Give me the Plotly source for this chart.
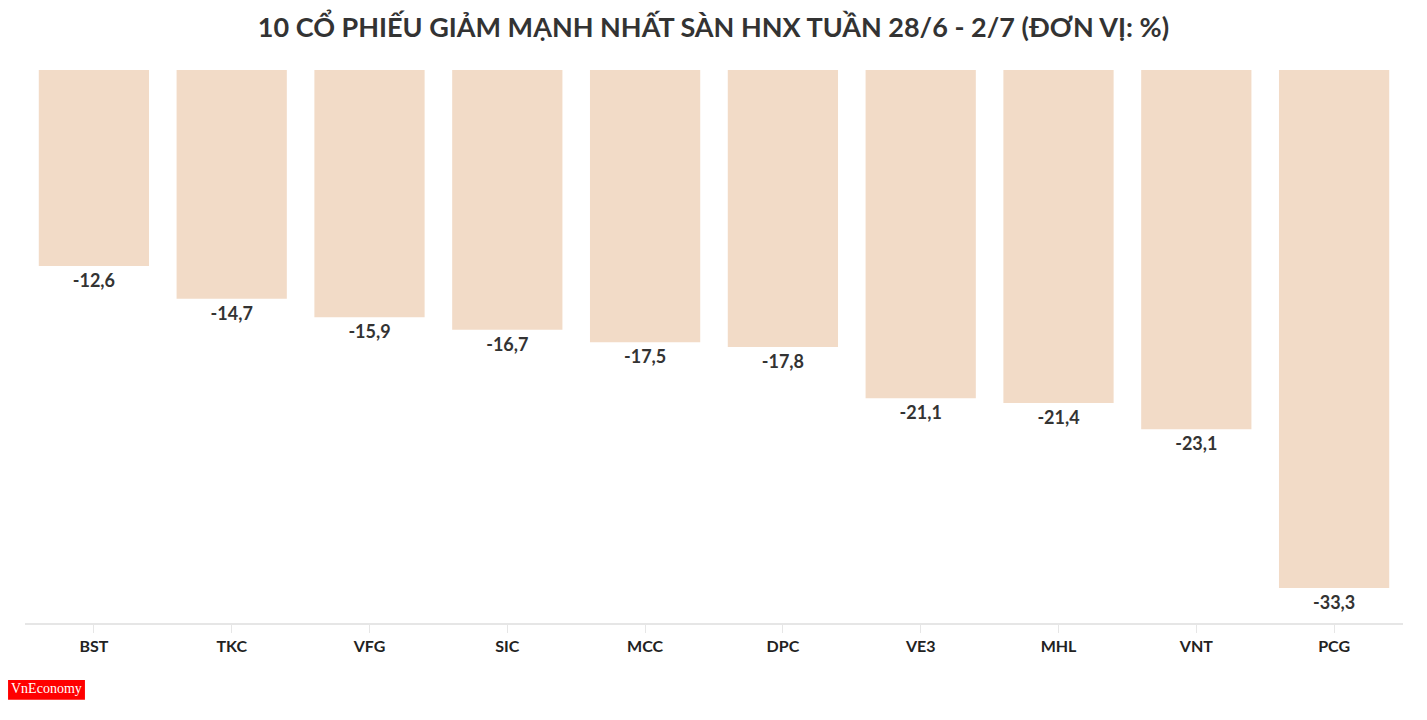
import plotly.graph_objects as go

categories = ["BST", "TKC", "VFG", "SIC", "MCC", "DPC", "VE3", "MHL", "VNT", "PCG"]
values = [-12.6, -14.7, -15.9, -16.7, -17.5, -17.8, -21.1, -21.4, -23.1, -33.3]
title_text = "10 CỔ PHIẾU GIẢM MẠNH NHẤT SÀN HNX TUẦN 28/6 - 2/7 (ĐƠN VỊ: %)"

FONT = "Lato, 'Open Sans', sans-serif"

fig = go.Figure(go.Bar(
    x=categories, y=values,
    marker=dict(color="#f2dbc7", line=dict(width=0)),
    text=[f"{v:.1f}".replace(".", ",") for v in values],
    textposition="outside",
    textfont=dict(family=FONT, size=18, color="#333333", weight="bold"),
    cliponaxis=False,
    hoverinfo="skip",
))

fig.update_layout(
    width=1411, height=704,
    margin=dict(l=17, r=16, t=62, b=89, autoexpand=False),
    paper_bgcolor="white", plot_bgcolor="white",
    bargap=0.2,
    showlegend=False,
    title=dict(text=f"<b>{title_text}</b>", x=0.5, xanchor="center", y=0.9716, yanchor="middle",
               font=dict(family=FONT, size=27, color="#333333")),
    xaxis=dict(showline=True, linecolor="#e6e6e6", linewidth=2, ticks="outside", ticklen=8,
               tickcolor="#e6e6e6", tickfont=dict(family=FONT, size=16, color="#222222", weight="bold"),
               showgrid=False, zeroline=False, side="bottom", automargin=False),
    yaxis=dict(range=[-35.55, 0], visible=False, showgrid=False, zeroline=False),
)

# logo
fig.add_shape(type="rect", xref="paper", yref="paper", x0=-0.0123, x1=0.0435,
              y0=-0.139, y1=-0.103, fillcolor="#ff0000", line=dict(width=0))
fig.add_annotation(xref="paper", yref="paper", x=0.0156, y=-0.118, text="VnEconomy",
                   showarrow=False, font=dict(family="Liberation Serif", size=14, color="white"),
                   xanchor="center", yanchor="middle")

fig.write_html("out.html")
